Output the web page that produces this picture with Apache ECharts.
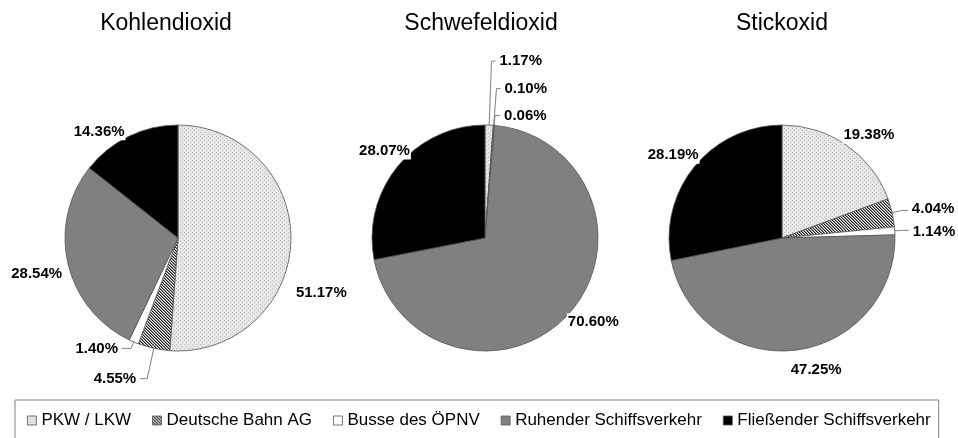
<!DOCTYPE html>
<html>
<head>
<meta charset="utf-8">
<script src="https://cdn.jsdelivr.net/npm/echarts@6/dist/echarts.min.js"></script>
<style>
html,body{margin:0;padding:0;background:#fff;}
#chart{width:958px;height:438px;}
</style>
</head>
<body>
<div id="chart"></div>
<script>
// ---- data ----
const categories = ['PKW / LKW', 'Deutsche Bahn AG', 'Busse des ÖPNV', 'Ruhender Schiffsverkehr', 'Fließender Schiffsverkehr'];
const chartTitles = ['Kohlendioxid', 'Schwefeldioxid', 'Stickoxid'];
const co2Values = [51.17, 4.55, 1.40, 28.54, 14.36];
const so2Values = [1.17, 0.10, 0.06, 70.60, 28.07];
const noxValues = [19.38, 4.04, 1.14, 47.25, 28.19];

// ---- styles ----
function makePattern(kind) {
  const c = document.createElement('canvas');
  const ctx = c.getContext('2d');
  if (kind === 'dots') {
    c.width = 4; c.height = 4;
    ctx.fillStyle = '#e6e6e6'; ctx.fillRect(0, 0, 4, 4);
    ctx.fillStyle = '#bdbdbd';
    ctx.fillRect(0, 0, 1, 1); ctx.fillRect(2, 2, 1, 1);
  } else {
    c.width = 3; c.height = 3;
    ctx.fillStyle = '#f4f4f4'; ctx.fillRect(0, 0, 3, 3);
    for (let i = 0; i < 3; i++) {
      ctx.fillStyle = '#1e1e1e'; ctx.fillRect(i, i, 1, 1);
      ctx.fillStyle = '#8a8a8a'; ctx.fillRect((i + 1) % 3, i, 1, 1);
    }
  }
  return { image: c, repeat: 'repeat' };
}
const sliceColors = [makePattern('dots'), makePattern('hatch'), '#ffffff', '#808080', '#000000'];
const pieCentersX = [178, 485, 782];
// per slice: [showLine, length, length2, dx, dy]
const labelStyles = [
  [[false, 5, 0, -4, 51], [true, 31, 7, 0, 0], [true, 7, 9, 0, 0], [false, 8, 0, 6, 9], [false, 5, 0, 2, 0]],
  [[true, 64, 4, 0, 0], [true, 37, 4, 0, 0], [true, 10, 5, 0, 0], [false, 5, 0, -9, 5], [false, 5, 0, 20, -12]],
  [[false, 5, 0, -10, -6], [true, 10, 6, 0, -2], [true, 8, 6, 0, 2], [false, 8, 0, -9, 12], [false, 5, 0, 12, -8]]
];
const FONT = 'Liberation Sans, Arial, sans-serif';

function buildSeries(values, k) {
  return {
    type: 'pie',
    name: chartTitles[k],
    center: [pieCentersX[k], 238],
    radius: 113,
    startAngle: 90,
    clockwise: true,
    avoidLabelOverlap: false,
    animation: false,
    itemStyle: { borderColor: '#555555', borderWidth: 0.8 },
    emphasis: { disabled: true },
    label: {
      show: true, position: 'outside', color: '#000', fontFamily: FONT,
      fontSize: 15, fontWeight: 'bold', distanceToLabelLine: 3,
      backgroundColor: '#ffffff', padding: [1, 1],
      formatter: p => p.value.toFixed(2) + '%'
    },
    labelLine: { lineStyle: { color: '#808080', width: 1 } },
    labelLayout: p => {
      const s = labelStyles[k][p.dataIndex];
      return { dx: s[3], dy: s[4] };
    },
    data: values.map((v, i) => {
      const s = labelStyles[k][i];
      return {
        name: categories[i], value: v,
        itemStyle: { color: sliceColors[i] },
        labelLine: { show: s[0], length: s[1], length2: s[2] }
      };
    })
  };
}

const chart = echarts.init(document.getElementById('chart'), null, { renderer: 'canvas' });
chart.setOption({
  backgroundColor: '#ffffff',
  animation: false,
  graphic: chartTitles.map((t, k) => ({
    type: 'text',
    x: [166, 481, 782][k], y: 24,
    style: { text: t, fontSize: 23, fontFamily: FONT, fill: '#000', align: 'center', verticalAlign: 'middle' }
  })),
  legend: {
    data: categories,
    top: 400, left: 15,
    icon: 'rect', itemWidth: 9, itemHeight: 9, itemGap: 21,
    borderColor: '#808080', borderWidth: 1,
    padding: [12, 8, 12, 12],
    selectedMode: false,
    textStyle: { fontSize: 17, fontFamily: FONT, color: '#000' },
    itemStyle: { borderColor: '#555555', borderWidth: 0.8 }
  },
  series: [buildSeries(co2Values, 0), buildSeries(so2Values, 1), buildSeries(noxValues, 2)]
});
</script>
</body>
</html>
